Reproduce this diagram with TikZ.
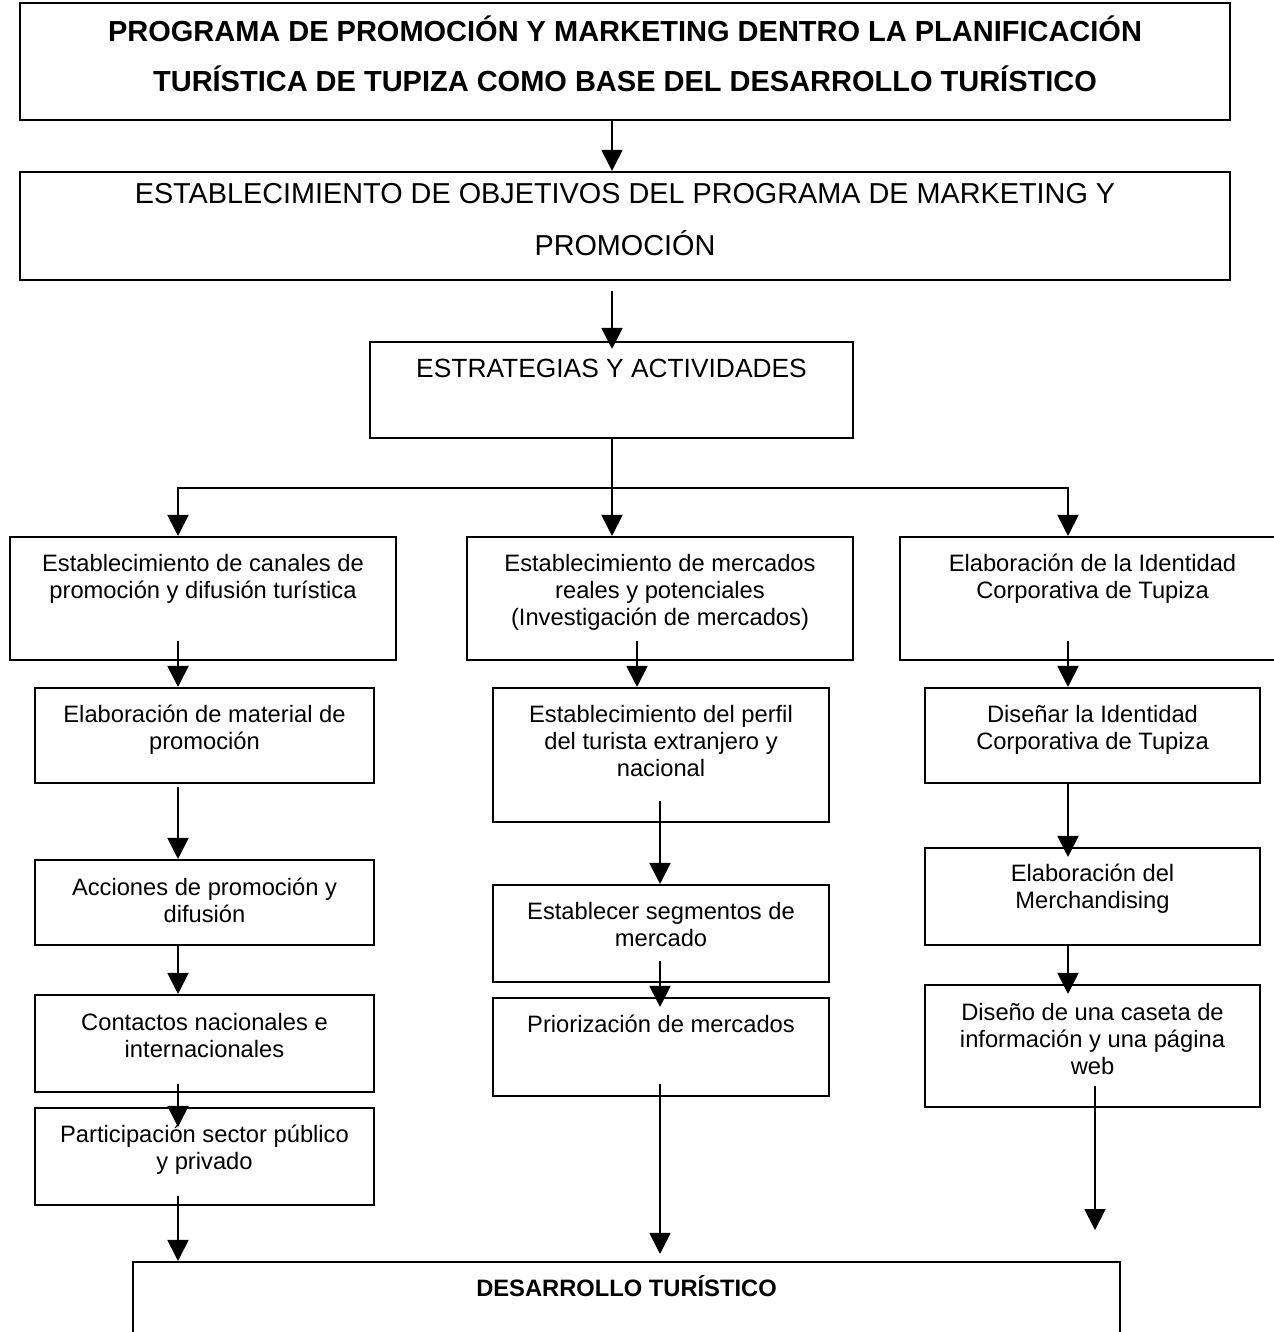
\documentclass[tikz,border=0pt]{standalone}
\usepackage{fontspec}
\setmainfont{Liberation Sans}
\usetikzlibrary{arrows.meta}
\newcommand{\boxtxt}[4][0.69cm]{\parbox[c][#3][t]{#2}{\centering\rule{0pt}{#1}#4}}

\begin{document}
\begin{tikzpicture}[x=0.02cm, y=-0.02cm,
  box/.style={draw, line width=1.2pt, inner sep=0pt, font=\fontsize{13.5pt}{15.4pt}\selectfont},
  arr/.style={line width=1.1pt, -{Triangle[width=0.42cm, length=0.42cm]}},
  line/.style={line width=1.1pt}]
  \useasboundingbox (0,0) rectangle (1274,1332);
  \clip (0,0) rectangle (1274,1332);

  % top boxes
  \node[box, font=\bfseries\fontsize{16.5pt}{28.5pt}\selectfont] (title) at (625,61.5)
    {\boxtxt[0.76cm]{24.2cm}{2.34cm}{PROGRAMA DE PROMOCIÓN Y MARKETING DENTRO LA PLANIFICACIÓN\\TURÍSTICA DE TUPIZA COMO BASE DEL DESARROLLO TURÍSTICO}};
  \node[box, font=\fontsize{16.4pt}{29.6pt}\selectfont] (obj) at (625,226)
    {\boxtxt[0.62cm]{24.2cm}{2.16cm}{ESTABLECIMIENTO DE OBJETIVOS DEL PROGRAMA DE MARKETING Y\\PROMOCIÓN}};
  \node[box, font=\fontsize{15pt}{18pt}\selectfont] (estr) at (611.5,390)
    {\boxtxt[0.70cm]{9.66cm}{1.92cm}{ESTRATEGIAS Y ACTIVIDADES}};

  % three branches
  \node[box] (canales) at (203,598.5) {\boxtxt{7.72cm}{2.46cm}{Establecimiento de canales de\\promoción y difusión turística}};
  \node[box] (mercados) at (660,598.5) {\boxtxt{7.72cm}{2.46cm}{Establecimiento de mercados\\reales y potenciales\\(Investigación de mercados)}};
  \node[box] (identidad) at (1092.5,598.5) {\boxtxt{7.7cm}{2.46cm}{Elaboración de la Identidad\\Corporativa de Tupiza}};

  % left column
  \node[box] (material) at (204.5,735.5) {\boxtxt{6.78cm}{1.9cm}{Elaboración de material de\\promoción}};
  \node[box] (acciones) at (204.5,902.5) {\boxtxt[0.71cm]{6.78cm}{1.7cm}{Acciones de promoción y\\difusión}};
  \node[box] (contactos) at (204.5,1043.5) {\boxtxt[0.71cm]{6.78cm}{1.94cm}{Contactos nacionales e\\internacionales}};
  \node[box] (particip) at (204.5,1156.5) {\boxtxt{6.78cm}{1.94cm}{Participación sector público\\y privado}};

  % middle column
  \node[box] (perfil) at (661,755) {\boxtxt{6.72cm}{2.68cm}{Establecimiento del perfil\\del turista extranjero y\\nacional}};
  \node[box] (segmentos) at (661,933.5) {\boxtxt{6.72cm}{1.94cm}{Establecer segmentos de\\mercado}};
  \node[box] (prior) at (661,1047) {\boxtxt{6.72cm}{1.96cm}{Priorización de mercados}};

  % right column
  \node[box] (disenar) at (1092.5,735.5) {\boxtxt{6.7cm}{1.9cm}{Diseñar la Identidad\\Corporativa de Tupiza}};
  \node[box] (merch) at (1092.5,896.5) {\boxtxt[0.67cm]{6.7cm}{1.94cm}{Elaboración del\\Merchandising}};
  \node[box] (caseta) at (1092.5,1046) {\boxtxt[0.71cm]{6.7cm}{2.44cm}{Diseño de una caseta de\\información y una página\\web}};

  % bottom
  \node[box, font=\bfseries\fontsize{13.5pt}{15.4pt}\selectfont] (desarrollo) at (626.5,1331) {\boxtxt{19.74cm}{2.76cm}{DESARROLLO TURÍSTICO}};

  \coordinate (split) at (612,488);
  \coordinate (lc) at (178,0);
  \coordinate (mc1) at (637,0);
  \coordinate (mc) at (660,0);
  \coordinate (rc) at (1068,0);
  \coordinate (rc2) at (1095,0);
  \coordinate (end) at (1095,1230);

  \draw[arr] (title.south -| split) -- (obj.north -| split);
  \draw[arr] ([yshift=-0.2cm]obj.south -| split) -- ([yshift=-0.16cm]estr.north -| split);
  \draw[line] (estr.south -| split) -- (split);
  \draw[arr] (split) -- (mercados.north -| split);
  \draw[arr] (split) -| (canales.north -| lc);
  \draw[arr] (split) -| (identidad.north -| rc);

  \draw[arr] ([yshift=0.4cm]canales.south -| lc) -- (material.north -| lc);
  \draw[arr] ([yshift=-0.06cm]material.south -| lc) -- (acciones.north -| lc);
  \draw[arr] (acciones.south -| lc) -- (contactos.north -| lc);
  \draw[arr] ([yshift=0.18cm]contactos.south -| lc) -- ([yshift=-0.4cm]particip.north -| lc);
  \draw[arr] ([yshift=0.2cm]particip.south -| lc) -- (desarrollo.north -| lc);

  \draw[arr] ([yshift=0.4cm]mercados.south -| mc1) -- (perfil.north -| mc1);
  \draw[arr] ([yshift=0.44cm]perfil.south -| mc) -- (segmentos.north -| mc);
  \draw[arr] ([yshift=0.44cm]segmentos.south -| mc) -- ([yshift=-0.2cm]prior.north -| mc);
  \draw[arr] ([yshift=0.26cm]prior.south -| mc) -- ([yshift=0.14cm]desarrollo.north -| mc);

  \draw[arr] ([yshift=0.4cm]identidad.south -| rc) -- (disenar.north -| rc);
  \draw[arr] (disenar.south -| rc) -- ([yshift=-0.2cm]merch.north -| rc);
  \draw[arr] (merch.south -| rc) -- ([yshift=-0.2cm]caseta.north -| rc);
  \draw[arr] ([yshift=0.44cm]caseta.south -| rc2) -- (end);
\end{tikzpicture}
\end{document}
